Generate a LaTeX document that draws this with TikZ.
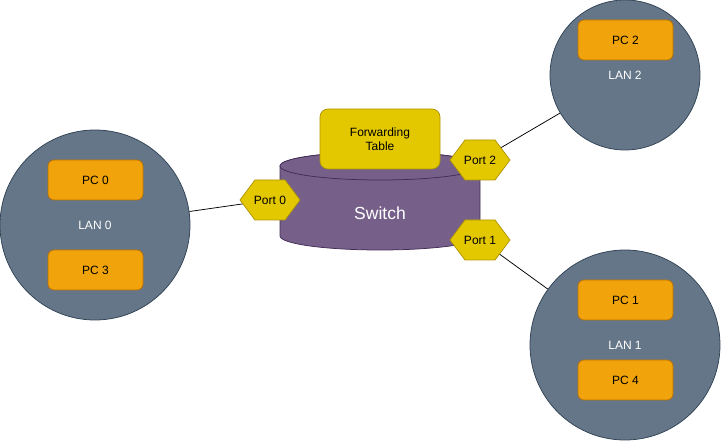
\documentclass[tikz,border=0pt]{standalone}
\usepackage{fontspec}
\setmainfont{Liberation Sans}
\usetikzlibrary{backgrounds}
\definecolor{lanfill}{HTML}{647687}
\definecolor{landraw}{HTML}{314354}
\definecolor{pcfill}{HTML}{F0A30A}
\definecolor{pcdraw}{HTML}{BD7000}
\definecolor{swfill}{HTML}{76608A}
\definecolor{swdraw}{HTML}{432D57}
\definecolor{yfill}{HTML}{E3C800}
\definecolor{ydraw}{HTML}{B09500}
\newcommand\portnode[3]{%
  \filldraw[portshape] (#2) ++(-30,0) -- ++(15,20) -- ++(30,0) -- ++(15,-20) -- ++(-15,-20) -- ++(-30,0) -- cycle;
  \node[porttext] (#1) at (#2) {#3};}
\begin{document}
\begin{tikzpicture}[x=1pt,y=1pt,
  every node/.style={font=\fontsize{12}{14}\selectfont},
  lan/.style={circle, draw=landraw, fill=lanfill, line width=0.75pt, inner sep=0pt, text=white},
  pc/.style={rectangle, rounded corners=6pt, draw=pcdraw, fill=pcfill, line width=0.75pt, minimum width=95pt, minimum height=40pt, inner sep=0pt},
  fwdtable/.style={rectangle, rounded corners=8pt, draw=ydraw, fill=yfill, line width=0.75pt, minimum width=120pt, minimum height=60pt, inner sep=0pt, align=center},
  portshape/.style={fill=yfill, draw=ydraw, line width=0.75pt},
  porttext/.style={minimum width=60pt, minimum height=40pt, inner sep=0pt},
  swbody/.style={fill=swfill, draw=swdraw, line width=0.75pt},
  link/.style={draw=black, line width=0.75pt}]
\useasboundingbox (0,0) rectangle (721,442);

% LANs
\node[lan, minimum size=190pt] (lan0) at (95,217) {LAN 0};
\node[lan, minimum size=150pt] (lan2) at (625,367) {LAN 2};
\node[lan, minimum size=190pt] (lan1) at (625,97) {LAN 1};

% PCs
\node[pc] (pc0) at (95.5,262) {PC 0};
\node[pc] (pc3) at (95.5,172) {PC 3};
\node[pc] (pc2) at (625.5,402) {PC 2};
\node[pc] (pc1) at (625.5,142) {PC 1};
\node[pc] (pc4) at (625.5,62) {PC 4};

% Switch cylinder
\filldraw[swbody] (280,276) -- (280,206)
  arc[start angle=180, end angle=360, x radius=100, y radius=14]
  -- (480,276)
  arc[start angle=0, end angle=180, x radius=100, y radius=14] -- cycle;
\draw[swbody] (380,276) ellipse[x radius=100, y radius=14];
\node[text=white, font=\fontsize{17.5}{20}\selectfont] (switch) at (380,229) {Switch};

% Forwarding table
\node[fwdtable] (fwd) at (380,303) {Forwarding\\Table};

% Ports
\portnode{port0}{270,242}{Port 0}
\portnode{port2}{480,282}{Port 2}
\portnode{port1}{480,202}{Port 1}

% Connectors
\begin{scope}[on background layer]
\draw[link] (lan0) -- (port0.center);
\draw[link] (lan2) -- (port2.center);
\draw[link] (lan1) -- (port1.center);
\end{scope}
\end{tikzpicture}
\end{document}
